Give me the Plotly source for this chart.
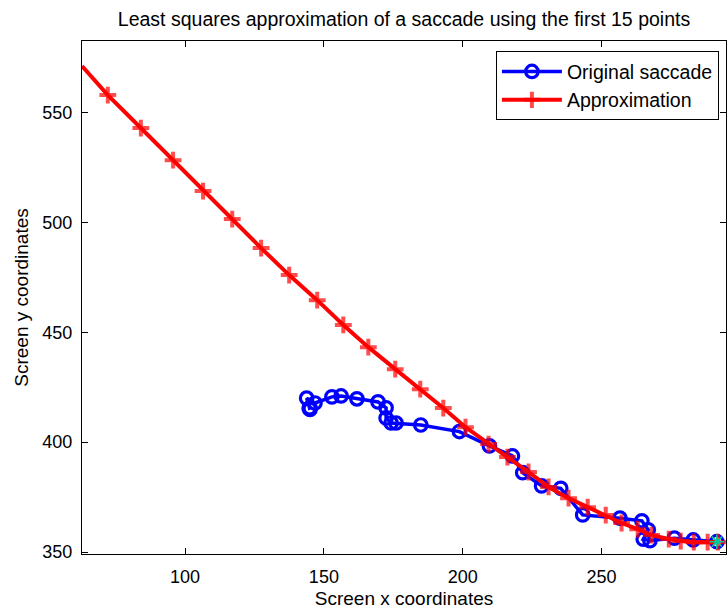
import plotly.graph_objects as go

# Recorded saccade (screen pixels), in time order starting at the first sample
saccade_x = [291.5, 283.0, 276.2, 267.4, 265.0, 266.8, 264.5, 256.6, 243.2, 235.3,
             228.4, 221.6, 217.9, 209.6, 198.8, 184.9, 176.0, 174.2, 172.4, 172.4,
             169.5, 161.9, 156.2, 152.9, 146.8, 143.8, 145.0, 145.0, 144.7]
saccade_y = [354.7, 355.5, 356.3, 355.2, 355.8, 360.1, 364.2, 365.4, 366.9, 379.0,
             380.1, 386.1, 393.7, 398.3, 404.8, 407.8, 408.7, 408.7, 411.0, 415.6,
             418.3, 419.7, 421.0, 420.6, 417.8, 420.0, 415.6, 414.9, 415.4]

# Least squares fit evaluated along the trajectory (fit on the first 15 samples)
approx_x = [62.9, 72.2, 84.1, 95.7, 106.5, 117.0, 127.4, 137.5, 147.6, 157.0,
            166.0, 175.7, 184.7, 193.0, 201.0, 209.3, 216.1, 223.7, 230.9, 238.1,
            245.0, 251.5, 257.2, 263.0, 268.0, 274.2, 278.5, 283.2, 288.2, 291.9]
approx_y = [571.1, 557.9, 542.9, 528.3, 514.2, 501.5, 488.3, 476.0, 464.6, 453.3,
            443.2, 433.2, 424.1, 415.5, 406.8, 399.1, 393.2, 386.4, 379.6, 374.5,
            370.4, 366.8, 363.2, 360.4, 357.7, 355.9, 355.0, 354.5, 354.5, 354.5]

x_ticks = [100, 150, 200, 250]
y_ticks = [350, 400, 450, 500, 550]

FONT = "Liberation Sans, Arial, Helvetica, sans-serif"

fig = go.Figure()

fig.add_trace(go.Scatter(
    x=saccade_x, y=saccade_y, mode="lines+markers", name="Original saccade",
    line=dict(color="rgb(0,0,255)", width=3.5),
    marker=dict(symbol="circle-open", size=12.5, color="rgb(0,0,255)",
                line=dict(width=3.2, color="rgb(0,0,255)")),
))

# first point of the fit sits on the axis edge and carries no marker
approx_sizes = [0] + [12] * (len(approx_x) - 1)
fig.add_trace(go.Scatter(
    x=approx_x, y=approx_y, mode="lines+markers", name="Approximation",
    line=dict(color="rgb(255,0,0)", width=4),
    marker=dict(symbol="cross-thin-open", size=approx_sizes, color="rgb(255,0,0)",
                line=dict(width=4, color="rgb(255,0,0)")),
))

# start of the saccade
fig.add_trace(go.Scatter(
    x=saccade_x[:1], y=saccade_y[:1], mode="markers", showlegend=False,
    marker=dict(symbol="asterisk-open", size=12,
                line=dict(width=1.6, color="rgb(40,230,40)")),
))

axis_common = dict(
    showline=True, linecolor="black", linewidth=1.3, mirror="ticks",
    ticks="inside", ticklen=6, tickwidth=1, tickcolor="black",
    showgrid=False, zeroline=False,
    tickfont=dict(family=FONT, size=18, color="black"),
)

fig.update_layout(
    width=728, height=611,
    margin=dict(l=82, r=2, t=41, b=57),
    paper_bgcolor="white", plot_bgcolor="white",
    font=dict(family=FONT, color="black"),
    title=dict(text="Least squares approximation of a saccade using the first 15 points",
               x=(82 + 726) / 2 / 728, xanchor="center", y=1 - 19 / 611, yanchor="middle",
               font=dict(family=FONT, size=19.5, color="black")),
    xaxis=dict(range=[62.9, 294.8], tickvals=x_ticks,
               title=dict(text="Screen x coordinates", font=dict(family=FONT, size=19),
                          standoff=5),
               ticklabelstandoff=6, **axis_common),
    yaxis=dict(range=[349.1, 582.5], tickvals=y_ticks,
               title=dict(text="Screen y coordinates", font=dict(family=FONT, size=19),
                          standoff=8),
               ticklabelstandoff=5, **axis_common),
    legend=dict(x=0.989, xanchor="right", y=0.98, yanchor="top",
                bgcolor="white", bordercolor="black", borderwidth=1,
                font=dict(family=FONT, size=19.5, color="black"),
                itemwidth=60, tracegroupgap=0),
    showlegend=True,
)

fig.write_html("out.html")
